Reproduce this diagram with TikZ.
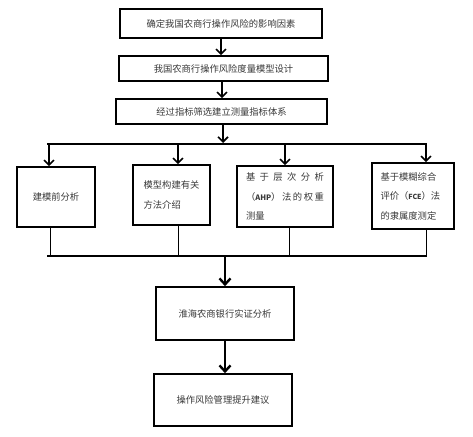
\documentclass[tikz,border=0pt]{standalone}
\usepackage{fontspec}
\setmainfont{Noto Sans CJK SC}
\usetikzlibrary{arrows.meta}
\begin{document}
\begin{tikzpicture}[x=1pt,y=-1pt,
  box/.style={draw, line width=1.6pt, rectangle, inner sep=0pt, text=black!78,
    font=\fontsize{9.3}{19.5}\selectfont},
  arr/.style={line width=1.6pt, -{Straight Barb[length=5pt,width=10pt,line width=1.6pt]}},
  bigarr/.style={line width=2.4pt, -{Straight Barb[length=6pt,width=11pt,line width=2.4pt]}},
  thin/.style={line width=0.8pt},
  bus/.style={line width=1.8pt}]
\useasboundingbox (0,0) rectangle (473,436);
\node[box, minimum width=202pt, minimum height=29pt] (b1) at (221,23.5) {确定我国农商行操作风险的影响因素};
\node[box, minimum width=209pt, minimum height=25pt] (b2) at (223.5,68.5) {我国农商行操作风险度量模型设计};
\node[box, minimum width=211pt, minimum height=25pt] (b3) at (221.5,111.5) {经过指标筛选建立测量指标体系};
\node[box, minimum width=78pt, minimum height=60pt] (c1) at (56,197) {建模前分析};
\node[box, minimum width=77pt, minimum height=60pt, align=left] (c2) at (171.5,195) {模型构建有关\\方法介绍};
\node[box, minimum width=96pt, minimum height=61pt, align=left] (c3) at (285,196.5)
  {\hbox to 78pt{基\hfil 于\hfil 层\hfil 次\hfil 分\hfil 析}\\\hbox to 78pt{（\textbf{\fontsize{7.5}{9}\selectfont AHP}）\hfil 法\hfil 的\hfil 权\hfil 重}\\测量};
\node[box, minimum width=82pt, minimum height=66pt, align=left] (c4) at (413,196)
  {基于模糊综合\\\hbox to 65pt{评价（\textbf{\fontsize{7}{9}\selectfont FCE}）法}\\的隶属度测定};
\node[box, minimum width=138pt, minimum height=53pt] (b5) at (225,313.5) {淮海农商银行实证分析};
\node[box, minimum width=138pt, minimum height=52pt] (b6) at (223,400) {操作风险管理提升建议};
% top arrows
\draw[arr] (b1.south -| 221,0) -- (b2.north -| 221,0);
\draw[arr] (b2.south -| 222,0) -- (b3.north -| 222,0);
% upper bus
\coordinate (tl) at (47,144);
\coordinate (tr) at (427,144);
\coordinate (tm) at (223,144);
\draw[arr] (b3.south -| tm) -- ([yshift=1pt]tm);
\draw[bus] (tl) -- (tr);
\coordinate (d1) at (49,144);
\coordinate (d2) at (178,144);
\coordinate (d3) at (285,144);
\coordinate (d4) at (426,144);
\draw[arr] (d1) -- (d1 |- c1.north);
\draw[arr] (d2) -- (d2 |- c2.north);
\draw[arr] (d3) -- (d3 |- c3.north);
\draw[arr] (d4) -- (d4 |- c4.north);
% lower bus
\coordinate (bl) at (47,256);
\coordinate (br) at (427,256);
\coordinate (bm) at (225,256);
\coordinate (u1) at (50,256);
\coordinate (u2) at (178,256);
\coordinate (u3) at (289,256);
\coordinate (u4) at (426,256);
\draw[thin] (u1 |- c1.south) -- (u1);
\draw[thin] (u2 |- c2.south) -- (u2);
\draw[thin] (u3 |- c3.south) -- (u3);
\draw[thin] (u4 |- c4.south) -- (u4);
\draw[bus] (bl) -- (br);
\draw[bigarr] (bm) -- (bm |- b5.north);
\draw[bigarr] (b5.south -| bm) -- (bm |- b6.north);
\end{tikzpicture}
\end{document}
